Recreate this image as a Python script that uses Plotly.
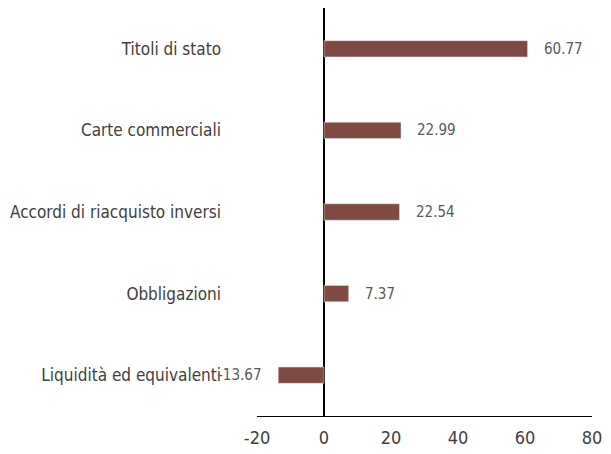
import plotly.graph_objects as go

categories = ["Liquidità ed equivalenti", "Obbligazioni", "Accordi di riacquisto inversi",
              "Carte commerciali", "Titoli di stato"]
values = [-13.67, 7.37, 22.54, 22.99, 60.77]
x_ticks = [-20, 0, 20, 40, 60, 80]
x_tick_text = ["-20", "0", "20", "40", "60", "80"]

bar_color = "#7e4a41"
font_family = "DejaVu Sans Condensed, Liberation Sans Narrow, sans-serif"

fig = go.Figure()
fig.add_trace(go.Bar(
    y=categories, x=values, orientation="h",
    marker_color=bar_color, width=0.2,
))

# value labels with a wider gap than plotly's default "outside"
for cat, val in zip(categories, values):
    fig.add_annotation(
        x=val, y=cat, text=f"{val:.2f}", showarrow=False,
        xanchor="left" if val >= 0 else "right",
        xshift=14 if val >= 0 else -14,
        font=dict(size=15, color="#595959", family=font_family),
    )

# page body adds an 8px margin, so the figure is a bit smaller than the window
fig.update_layout(
    width=603, height=446,
    margin=dict(l=249, r=19, t=0, b=38),
    plot_bgcolor="white", paper_bgcolor="white",
    font=dict(family=font_family, size=17, color="#404040"),
    showlegend=False,
    xaxis=dict(range=[-20, 80], tickvals=x_ticks, ticktext=x_tick_text,
               showgrid=False, automargin=False,
               zeroline=True, zerolinecolor="black", zerolinewidth=1.5,
               showline=True, linecolor="black", linewidth=1,
               ticks="", ticklabelstandoff=5, tickfont=dict(size=18)),
    yaxis=dict(showgrid=False, zeroline=False, showline=False, ticks="",
               automargin=False, ticklabelstandoff=35,
               tickfont=dict(size=17, color="#404040")),
)

fig.write_html("out.html")
